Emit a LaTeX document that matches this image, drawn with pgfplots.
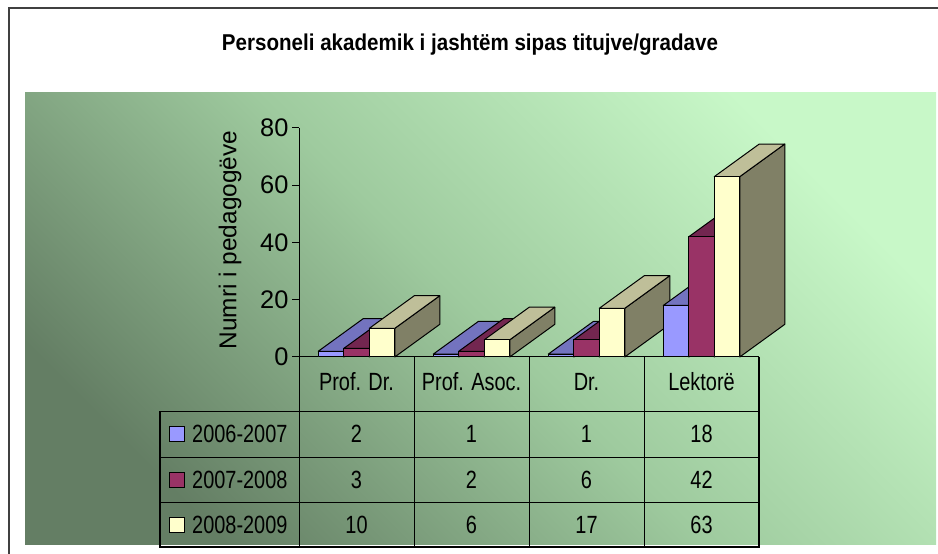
\documentclass[border=0pt]{standalone}
\usepackage{fontspec}
\setmainfont{Liberation Sans}
\usepackage{graphicx}
\usepackage{pgfplots}
\pgfplotsset{compat=1.18}

\definecolor{bluF}{HTML}{9999FF}
\definecolor{bluT}{HTML}{7373BF}
\definecolor{bluS}{HTML}{4D4D80}
\definecolor{marF}{HTML}{993366}
\definecolor{marT}{HTML}{732650}
\definecolor{marS}{HTML}{4D1A33}
\definecolor{yelF}{HTML}{FFFFCC}
\definecolor{yelT}{HTML}{BFBF99}
\definecolor{yelS}{HTML}{808066}
\definecolor{bgTR}{RGB}{200,248,200}
\definecolor{bgMid}{RGB}{158,202,158}
\definecolor{bgBL}{RGB}{100,126,100}

\def\bw{0.2217}
\def\dx{0.3913}
\def\dy{11.4}
\newcommand\tdbar[3]{%
  \pgfmathsetmacro\xl{#1}%
  \pgfmathsetmacro\xr{#1+\bw}%
  \pgfmathsetmacro\xlb{#1+\dx}%
  \pgfmathsetmacro\xrb{#1+\bw+\dx}%
  \pgfmathsetmacro\yt{#2}%
  \pgfmathsetmacro\ytb{#2+\dy}%
  \edef\tmp{%
    \noexpand\addplot[fill=#3S,draw=black,line width=1bp,line join=round,forget plot] coordinates {(\xr,0) (\xrb,\dy) (\xrb,\ytb) (\xr,\yt)} --cycle;
    \noexpand\addplot[fill=#3T,draw=black,line width=1bp,line join=round,forget plot] coordinates {(\xl,\yt) (\xr,\yt) (\xrb,\ytb) (\xlb,\ytb)} --cycle;
    \noexpand\addplot[fill=#3F,draw=black,line width=1bp,line join=round,forget plot] coordinates {(\xl,0) (\xr,0) (\xr,\yt) (\xl,\yt)} --cycle;
  }\tmp}

\newcommand\tfont{\fontsize{25}{25}\selectfont}
\newcommand\nar[1]{\scalebox{0.8}[1]{#1}}

\begin{document}
\begin{tikzpicture}[x=1bp,y=1bp]
\useasboundingbox (0,0) rectangle (938,554);
\shade[top color=bgTR, bottom color=bgBL, middle color=bgMid, shading angle=-45] (25,9) rectangle (936,461);
\draw[line width=2bp, black!75] (9,0) -- (9,546) -- (938,546);
\node[font=\bfseries\fontsize{23}{23}\selectfont] at (470,509) {\resizebox{496bp}{\height}{Personeli akademik i jasht\"em sipas titujve/gradave}};

\begin{axis}[at={(299bp,197bp)}, anchor=south west, scale only axis,
  width=460bp, height=229bp, xmin=-0.5, xmax=3.5, ymin=0, ymax=80,
  clip=false, axis lines=left, axis line style={-, line width=1bp, black},
  xtick=\empty, ytick={0,20,40,60,80}, tick align=outside,
  major tick length=7bp, tick style={line width=1bp, black},
  yticklabel style={font=\fontsize{25.5}{25.5}\selectfont},
  /pgf/number format/assume math mode=true]
% Prof. Dr.
\tdbar{-0.3326}{2}{blu}
\tdbar{-0.1109}{3}{mar}
\tdbar{0.1109}{10}{yel}
% Prof. Asoc.
\tdbar{0.6674}{1}{blu}
\tdbar{0.8891}{2}{mar}
\tdbar{1.1109}{6}{yel}
% Dr.
\tdbar{1.6674}{1}{blu}
\tdbar{1.8891}{6}{mar}
\tdbar{2.1109}{17}{yel}
% Lektore
\tdbar{2.6674}{18}{blu}
\tdbar{2.8891}{42}{mar}
\tdbar{3.1109}{63}{yel}
\end{axis}

\node[rotate=90, font=\fontsize{24.5}{24.5}\selectfont] at (230,314) {Numri i pedagog\"eve};

% data table
\draw[line width=0.9bp] (160,143) -- (759,143);
\draw[line width=0.9bp] (160,97) -- (759,97);
\draw[line width=0.9bp] (160,52) -- (759,52);
\draw[line width=0.9bp] (414,197) -- (414,7);
\draw[line width=0.9bp] (529,197) -- (529,7);
\draw[line width=0.9bp] (644,197) -- (644,7);
\draw[line width=0.9bp] (299,197) -- (299,7);
\draw[line width=1.5bp] (759,197) -- (759,7) -- (160,7) -- (160,143);

\begin{scope}[every node/.style={font=\tfont, inner sep=0pt}]
\node at (356.5,172) {\nar{Prof. Dr.}};
\node at (471.5,172) {\nar{Prof. Asoc.}};
\node at (586.5,172) {\nar{Dr.}};
\node at (701.5,172) {\nar{Lektor\"e}};

\draw[fill=bluF, line width=1bp] (169.5,112.5) rectangle (184.5,127.5);
\draw[fill=marF, line width=1bp] (169.5,66.5) rectangle (184.5,81.5);
\draw[fill=yelF, line width=1bp] (169.5,21.5) rectangle (184.5,36.5);
\node[anchor=west] at (192,120) {\nar{2006-2007}};
\node[anchor=west] at (192,74) {\nar{2007-2008}};
\node[anchor=west] at (192,29) {\nar{2008-2009}};

\node at (356.5,120) {\nar{2}};
\node at (471.5,120) {\nar{1}};
\node at (586.5,120) {\nar{1}};
\node at (701.5,120) {\nar{18}};
\node at (356.5,74) {\nar{3}};
\node at (471.5,74) {\nar{2}};
\node at (586.5,74) {\nar{6}};
\node at (701.5,74) {\nar{42}};
\node at (356.5,29) {\nar{10}};
\node at (471.5,29) {\nar{6}};
\node at (586.5,29) {\nar{17}};
\node at (701.5,29) {\nar{63}};
\end{scope}
\end{tikzpicture}
\end{document}
